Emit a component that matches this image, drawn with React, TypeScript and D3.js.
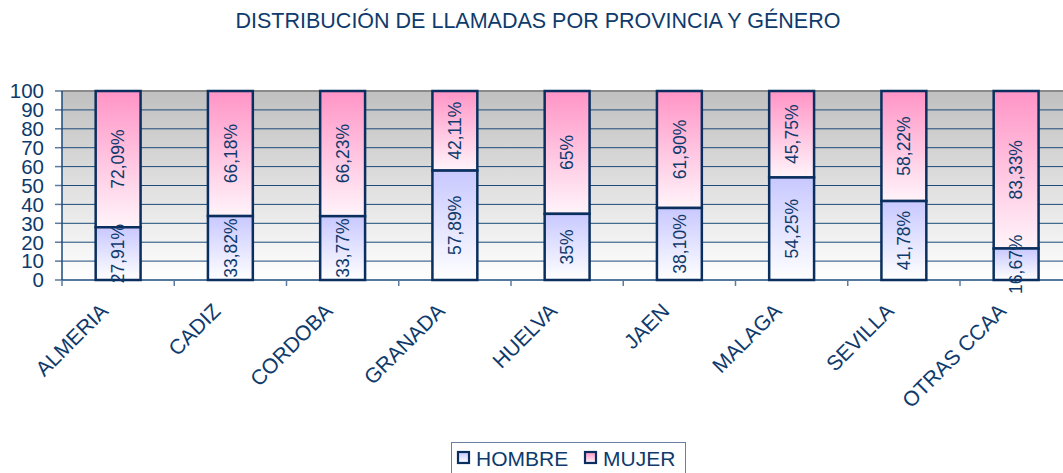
import React from "react";
import * as d3 from "d3";

const categories = ["ALMERIA", "CADIZ", "CORDOBA", "GRANADA", "HUELVA", "JAEN", "MALAGA", "SEVILLA", "OTRAS CCAA"];
const hombre = [27.91, 33.82, 33.77, 57.89, 35, 38.1, 54.25, 41.78, 16.67];
const mujer = [72.09, 66.18, 66.23, 42.11, 65, 61.9, 45.75, 58.22, 83.33];
const hombreLabels = ["27,91%", "33,82%", "33,77%", "57,89%", "35%", "38,10%", "54,25%", "41,78%", "16,67%"];
const mujerLabels = ["72,09%", "66,18%", "66,23%", "42,11%", "65%", "61,90%", "45,75%", "58,22%", "83,33%"];
const yTicks = [0, 10, 20, 30, 40, 50, 60, 70, 80, 90, 100];
const seriesNames = ["HOMBRE", "MUJER"];

const W = 1063, H = 473;
const M = { left: 62, top: 91, right: 62 + 9 * 112.25, bottom: 280 };
const TXT = "#0e3a6c";
const FONT = "'Liberation Sans', Arial, sans-serif";

export default function App() {
  const x = d3.scaleBand<string>().domain(categories).range([M.left, M.right]).paddingInner(0.6).paddingOuter(0.3);
  const xc = d3.scaleBand<string>().domain(categories).range([M.left, M.right]);
  const y = d3.scaleLinear().domain([0, 100]).range([M.bottom, M.top]);
  const bw = x.bandwidth();

  return (
    <svg width={W} height={H} style={{ position: "absolute", left: 0, top: 0, background: "#fff" }} fontFamily={FONT}>
      <defs>
        <linearGradient id="bg" x1="0" y1="0" x2="0" y2="1">
          <stop offset="0" stopColor="#c0c0c0" />
          <stop offset="1" stopColor="#ffffff" />
        </linearGradient>
        <linearGradient id="gH" x1="0" y1="0" x2="0" y2="1">
          <stop offset="0" stopColor="#c8c8ff" />
          <stop offset="1" stopColor="#ffffff" />
        </linearGradient>
        <linearGradient id="gM" x1="0" y1="0" x2="0" y2="1">
          <stop offset="0" stopColor="#ff94c6" />
          <stop offset="1" stopColor="#fff4fa" />
        </linearGradient>
        <linearGradient id="lH" x1="0" y1="0" x2="0" y2="1">
          <stop offset="0" stopColor="#c8c8ff" />
          <stop offset="1" stopColor="#ffffff" />
        </linearGradient>
        <linearGradient id="lM" x1="0" y1="0" x2="0" y2="1">
          <stop offset="0" stopColor="#ff94c6" />
          <stop offset="1" stopColor="#fff4fa" />
        </linearGradient>
      </defs>

      <text x={538} y={28} textAnchor="middle" fontSize={21.5} fill={TXT}>
        DISTRIBUCIÓN DE LLAMADAS POR PROVINCIA Y GÉNERO
      </text>

      <rect x={M.left} y={M.top} width={M.right - M.left} height={M.bottom - M.top} fill="url(#bg)" />
      <line x1={M.left} x2={M.right} y1={M.top} y2={M.top} stroke="#8a8a8a" strokeWidth={2} />

      {yTicks.filter((t) => t > 0 && t < 100).map((t) => (
        <line key={t} x1={M.left} x2={M.right} y1={y(t)} y2={y(t)} stroke="#1c4a7a" strokeWidth={1} />
      ))}

      {yTicks.map((t) => (
        <g key={"yt" + t}>
          <line x1={55} x2={M.left} y1={y(t)} y2={y(t)} stroke="#5a7a9e" strokeWidth={1.5} />
          <text x={44} y={y(t)} dy="0.36em" textAnchor="end" fontSize={20.5} fill={TXT}>{t}</text>
        </g>
      ))}

      <line x1={M.left} x2={M.left} y1={M.top} y2={M.bottom} stroke="#1c4a7a" strokeWidth={1.5} />
      <line x1={M.left} x2={M.right} y1={M.bottom} y2={M.bottom} stroke="#1c4a7a" strokeWidth={1.5} />
      {categories.map((c) => (
        <line key={"xt" + c} x1={xc(c)!} x2={xc(c)!} y1={M.bottom} y2={M.bottom + 6} stroke="#5a7a9e" strokeWidth={1.5} />
      ))}

      {categories.map((c, i) => {
        const x0 = x(c)!;
        const cx = x0 + bw / 2;
        const h0 = y(hombre[i]);
        const m0 = y(hombre[i] + mujer[i]);
        return (
          <g key={c}>
            <rect x={x0} y={m0} width={bw} height={h0 - m0} fill="url(#gM)" stroke="#0a2f5e" strokeWidth={2.5} />
            <rect x={x0} y={h0} width={bw} height={M.bottom - h0} fill="url(#gH)" stroke="#0a2f5e" strokeWidth={2.5} />
            <text transform={`translate(${cx},${(h0 + M.bottom) / 2}) rotate(-90)`} textAnchor="middle" dy="0.36em" fontSize={17.5} fill={TXT}>{hombreLabels[i]}</text>
            <text transform={`translate(${cx},${(h0 + m0) / 2}) rotate(-90)`} textAnchor="middle" dy="0.36em" fontSize={17.5} fill={TXT}>{mujerLabels[i]}</text>
          </g>
        );
      })}

      {categories.map((c) => {
        const cx = xc(c)! + xc.bandwidth() / 2;
        return (
          <text key={"xl" + c} transform={`translate(${cx - 14},${307}) rotate(-45)`} textAnchor="end" dy="0.36em" fontSize={21} fill={TXT}>{c}</text>
        );
      })}

      <rect x={451.5} y={442.5} width={234} height={40} fill="#fff" stroke="#6a80a0" strokeWidth={1} />
      {seriesNames.map((s, i) => {
        const lx = i === 0 ? 457 : 584;
        return (
          <g key={s}>
            <rect x={lx + 1} y={452} width={11} height={11} fill={i === 0 ? "url(#lH)" : "url(#lM)"} stroke="#0a2f5e" strokeWidth={2.2} />
            <text x={lx + 19} y={466} fontSize={21} fill={TXT}>{s}</text>
          </g>
        );
      })}
    </svg>
  );
}
